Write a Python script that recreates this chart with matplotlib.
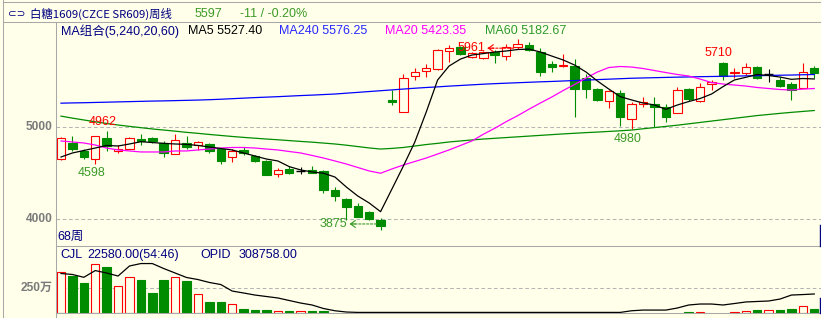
import matplotlib
matplotlib.use('Agg')
import matplotlib.pyplot as plt
from matplotlib.patches import Rectangle
from matplotlib.lines import Line2D
from matplotlib.transforms import offset_copy, blended_transform_factory

# ---------------- data (weekly candles) ----------------
opens = [4655, 4833, 4742, 4655, 4883, 4742, 4763, 4873, 4883, 4833,
         4709, 4829, 4807, 4818, 4763, 4676, 4753, 4687, 4633, 4491,
         4546, 4524, 4535, 4524, 4317, 4219, 4143, 4078, 3990, 5298,
         5167, 5559, 5614, 5635, 5832, 5875, 5766, 5755, 5821, 5777,
         5875, 5897, 5821, 5690, 5668, 5668, 5537, 5417, 5287, 5374,
         5090, 5254, 5254, 5221, 5156, 5417, 5287, 5472, 5705, 5592,
         5592, 5657, 5581, 5516, 5472, 5428, 5650]
highs = [4895, 4909, 4763, 4906, 4962, 4807, 4895, 4927, 4895, 4851,
         4927, 4906, 4851, 4829, 4774, 4763, 4785, 4698, 4644, 4557,
         4578, 4568, 4578, 4535, 4350, 4230, 4175, 4088, 4012, 5407,
         5581, 5646, 5690, 5853, 5897, 5886, 5821, 5832, 5843, 5908,
         5961, 5930, 5864, 5723, 5799, 5744, 5581, 5428, 5407, 5407,
         5276, 5330, 5330, 5254, 5439, 5428, 5483, 5516, 5710, 5646,
         5701, 5668, 5635, 5548, 5494, 5701, 5668]
lows = [4644, 4747, 4655, 4598, 4742, 4720, 4763, 4807, 4829, 4676,
        4709, 4763, 4753, 4720, 4600, 4622, 4698, 4622, 4480, 4458,
        4491, 4491, 4502, 4284, 4197, 3990, 4023, 3990, 3875, 5243,
        5167, 5516, 5548, 5624, 5711, 5788, 5755, 5744, 5701, 5733,
        5853, 5832, 5559, 5603, 5657, 5112, 5319, 5287, 5210, 5014,
        4980, 5221, 5003, 5058, 5156, 5287, 5276, 5407, 5516, 5537,
        5570, 5526, 5494, 5439, 5298, 5428, 5537]
closes = [4884, 4768, 4676, 4906, 4796, 4763, 4883, 4851, 4851, 4720,
          4862, 4785, 4840, 4742, 4633, 4742, 4720, 4633, 4480, 4535,
          4502, 4524, 4502, 4317, 4251, 4132, 4023, 4001, 3925, 5276,
          5537, 5603, 5646, 5843, 5864, 5799, 5810, 5821, 5788, 5875,
          5908, 5843, 5603, 5657, 5679, 5417, 5417, 5298, 5396, 5112,
          5254, 5276, 5221, 5112, 5407, 5308, 5439, 5494, 5559, 5603,
          5657, 5537, 5581, 5450, 5407, 5608, 5597]

ma5 = [4676, 4720, 4747, 4774, 4802, 4796, 4818, 4843, 4834, 4825,
       4818, 4814, 4802, 4785, 4769, 4753, 4720, 4687, 4654, 4633,
       4571, 4535, 4513, 4499, 4458, 4349, 4251, 4175, 4080, 4328,
       4578, 4839, 5166, 5516, 5668, 5744, 5788, 5804, 5821, 5832,
       5848, 5853, 5821, 5777, 5734, 5679, 5603, 5505, 5417, 5334,
       5298, 5265, 5243, 5196, 5243, 5281, 5314, 5363, 5443, 5516,
       5545, 5576, 5565, 5548, 5523, 5532, 5527]
ma20 = [4851, 4840, 4829, 4807, 4774, 4753, 4742, 4731, 4731, 4731,
        4742, 4742, 4753, 4763, 4774, 4780, 4780, 4774, 4763, 4753,
        4736, 4720, 4693, 4665, 4633, 4600, 4562, 4524, 4499, 4546,
        4589, 4627, 4665, 4709, 4753, 4802, 4851, 4924, 4989, 5061,
        5126, 5197, 5265, 5330, 5401, 5467, 5537, 5603, 5652, 5663,
        5657, 5641, 5619, 5597, 5576, 5559, 5526, 5488, 5472, 5461,
        5450, 5434, 5423, 5412, 5407, 5417, 5423]
ma60 = [5122, 5100, 5080, 5060, 5042, 5025, 5010, 4996, 4982, 4970,
        4958, 4945, 4934, 4922, 4911, 4900, 4890, 4881, 4872, 4864,
        4855, 4846, 4838, 4828, 4818, 4805, 4790, 4775, 4763, 4770,
        4780, 4796, 4812, 4825, 4840, 4851, 4862, 4872, 4880, 4888,
        4896, 4904, 4912, 4920, 4928, 4935, 4942, 4948, 4955, 4962,
        4970, 4984, 4997, 5010, 5023, 5038, 5053, 5068, 5083, 5098,
        5113, 5128, 5140, 5152, 5163, 5173, 5183]
ma240 = [5263, 5266, 5268, 5271, 5274, 5277, 5280, 5283, 5286, 5288,
         5291, 5294, 5297, 5301, 5306, 5312, 5318, 5324, 5329, 5334,
         5340, 5346, 5351, 5357, 5363, 5372, 5381, 5390, 5399, 5408,
         5417, 5426, 5434, 5441, 5449, 5456, 5463, 5470, 5476, 5481,
         5486, 5491, 5496, 5500, 5505, 5510, 5515, 5520, 5525, 5530,
         5535, 5538, 5541, 5544, 5547, 5549, 5552, 5554, 5556, 5558,
         5561, 5563, 5565, 5568, 5570, 5573, 5576]

# volume in 万
volume = [414, 372, 304, 502, 464, 277, 369, 338, 198, 331,
          369, 321, 195, 113, 113, 92, 41, 24, 31, 13,
          13, 20, 13, 13, 0, 0, 0, 0, 0, 0,
          0, 0, 0, 0, 0, 0, 0, 0, 0, 0,
          0, 0, 0, 0, 0, 0, 0, 0, 0, 0,
          0, 0, 0, 0, 0, 10, 10, 0, 0, 10,
          20, 31, 31, 31, 41, 69, 41]
vol_ma = [402, 392, 363, 432, 407, 376, 479, 504, 504, 453,
          407, 361, 340, 310, 289, 222, 202, 181, 166, 151,
          125, 99, 79, 43, 20, 7, 3, 3, 3, 3,
          3, 3, 3, 3, 3, 3, 3, 3, 3, 3,
          3, 3, 3, 3, 3, 3, 3, 3, 3, 3,
          20, 27, 27, 27, 48, 79, 89, 89, 79, 94,
          110, 115, 120, 140, 181, 186, 192]

price_ticks = [4000, 5000]
vol_tick = 250

# ---------------- style ----------------
W, H = 821, 318
BG = '#FFFFEA'
RED = '#FF0000'
GREEN = '#008C00'
NAVY = '#000080'
GRID = '#B4B4B4'
FRAME = '#A8A8A8'
LBL_GREEN = '#3C9A28'
FONT = ['Liberation Sans', 'Noto Sans CJK SC', 'DejaVu Sans']
plt.rcParams['font.family'] = FONT

fig = plt.figure(figsize=(W / 100, H / 100), dpi=100, facecolor=BG)


def fx(px):
    return px / W


def fy(py):
    return 1 - py / H


def fline(x0, y0, x1, y1, color=FRAME, lw=0.75, ls='-'):
    fig.add_artist(Line2D([fx(x0), fx(x1)], [fy(y0), fy(y1)], transform=fig.transFigure,
                          color=color, lw=lw, ls=ls))


# frame lines
fline(2.5, 0, 2.5, 318)
fline(2.5, 2.3, 821, 2.3)
fline(2.5, 22, 821, 22)
fline(55.5, 22, 55.5, 318)
fline(55.5, 246, 821, 246)
fline(55.5, 313, 821, 313)
fline(819.5, 225, 819.5, 246, color=NAVY, lw=1.0)
fline(819.5, 298, 819.5, 313, color=NAVY, lw=1.0)

n = len(closes)
idx = list(range(n))
cw = 0.74
XL = (-0.4816, 66.59)

# ---------------- price panel ----------------
ax = fig.add_axes([fx(55.5), fy(246), (821 - 55.5) / W, (246 - 22) / H])
ax.set_xlim(*XL)
ax.set_ylim(3705.6, 6148.3)
ax.axis('off')

for t in price_ticks:
    ax.axhline(t, color=GRID, lw=0.75, ls=(0, (3.5, 2.5)), zorder=1)

lw = 0.8
for i in idx:
    o, h, l, c = opens[i], highs[i], lows[i], closes[i]
    if c > o:
        ax.add_patch(Rectangle((i - cw / 2, o), cw, c - o, facecolor=BG, edgecolor=RED,
                               lw=lw, zorder=3))
        ax.vlines(i, c, h, color=RED, lw=lw, zorder=3)
        ax.vlines(i, l, o, color=RED, lw=lw, zorder=3)
    elif c < o:
        ax.vlines(i, l, h, color=GREEN, lw=lw, zorder=2)
        ax.add_patch(Rectangle((i - cw / 2, c), cw, o - c, facecolor=GREEN, edgecolor=GREEN,
                               lw=lw, zorder=3))
    else:
        ax.vlines(i, l, h, color='black', lw=lw, zorder=3)
        ax.hlines(o, i - cw / 2, i + cw / 2, color='black', lw=1.0, zorder=3)

ax.plot(idx, ma240, color='#0000FF', lw=0.9, zorder=4)
ax.plot(idx, ma60, color='#008C00', lw=0.9, zorder=4)
ax.plot(idx, ma20, color='#FF00FF', lw=0.9, zorder=4)
ax.plot(idx, ma5, color='black', lw=0.9, zorder=5)

ylab = blended_transform_factory(ax.transAxes, ax.transData)
for t in price_ticks:
    ax.text(-0.004, t, str(t), transform=ylab, ha='right', va='center', fontsize=8.6,
            color='#7A7A7A', fontweight='bold', clip_on=False)


def mark(i, price, text, dx, dy, color, ha='center'):
    tr = offset_copy(ax.transData, fig=fig, x=dx, y=dy, units='dots')
    ax.text(i, price, text, transform=tr, ha=ha, va='center', fontsize=9, color=color, zorder=6)


def dashed_arrow(i, price, tip_dx, tail_dx, dy, color):
    tr = offset_copy(ax.transData, fig=fig, x=tip_dx, y=dy, units='dots')
    ax.annotate('', xy=(i, price), xycoords=tr, xytext=(tail_dx - tip_dx, 0),
                textcoords='offset pixels',
                arrowprops=dict(arrowstyle='-', color=color, lw=0.8, ls=(0, (2, 1.5)),
                                shrinkA=0, shrinkB=0), zorder=6)
    ax.annotate('', xy=(i, price), xycoords=tr, xytext=(6, 0), textcoords='offset pixels',
                arrowprops=dict(arrowstyle='->,head_length=0.35,head_width=0.25', color=color,
                                lw=0.8, shrinkA=0, shrinkB=0), zorder=6)


hi_i = highs.index(max(highs))
lo_i = lows.index(min(lows))
mark(4, highs[4], str(highs[4]), -4, 9, RED)
mark(3, lows[3], str(lows[3]), -4, -9, LBL_GREEN)
mark(lo_i, lows[lo_i], str(lows[lo_i]), -33, 6.5, LBL_GREEN, ha='right')
dashed_arrow(lo_i, lows[lo_i], -31, -4, 6.5, LBL_GREEN)
mark(hi_i, highs[hi_i], str(highs[hi_i]), -32, -9, RED, ha='right')
dashed_arrow(hi_i, highs[hi_i], -30, -4, -9, RED)
mark(50, lows[50], str(lows[50]), -4.5, -9.5, LBL_GREEN)
mark(58, highs[58], str(highs[58]), -5, 9.4, RED)

# ---------------- volume panel ----------------
vax = fig.add_axes([fx(55.5), fy(312.7), (821 - 55.5) / W, (312.7 - 246) / H])
vax.set_xlim(*XL)
vax.set_ylim(0, 684)
vax.axis('off')
vax.axhline(vol_tick, color=GRID, lw=0.75, ls=(0, (3.5, 2.5)), zorder=1)
for i in idx:
    v = volume[i]
    if v <= 0:
        continue
    if closes[i] >= opens[i]:
        vax.add_patch(Rectangle((i - cw / 2, 0), cw, v, facecolor=BG, edgecolor=RED, lw=lw,
                                zorder=3))
    else:
        vax.add_patch(Rectangle((i - cw / 2, 0), cw, v, facecolor=GREEN, edgecolor=GREEN,
                                lw=lw, zorder=3))
vax.plot(idx, vol_ma, color='black', lw=0.9, zorder=4)
vlab = blended_transform_factory(vax.transAxes, vax.transData)
vax.text(-0.004, vol_tick, f'{vol_tick}万', transform=vlab, ha='right', va='center',
         fontsize=8.6, color='#7A7A7A', fontweight='bold', clip_on=False)

# ---------------- header texts ----------------
fig.text(fx(8), fy(14), '⊂⊃', fontsize=7.5, color=NAVY, va='center', family=['DejaVu Sans'])
fig.text(fx(30), fy(14), '白糖1609(CZCE SR609)周线', fontsize=8.2, color=NAVY, va='center',
         family=['Noto Sans CJK SC', 'DejaVu Sans'])
fig.text(fx(195), fy(14), '5597', fontsize=9, color=LBL_GREEN, va='center')
fig.text(fx(240), fy(14), '-11 / -0.20%', fontsize=9, color=LBL_GREEN, va='center')

fig.text(fx(61), fy(31), 'MA组合(5,240,20,60)', fontsize=9, color=NAVY, va='center')
fig.text(fx(188), fy(31), 'MA5 5527.40', fontsize=9, color='black', va='center')
fig.text(fx(279), fy(31), 'MA240 5576.25', fontsize=9, color='#2828FF', va='center')
fig.text(fx(385), fy(31), 'MA20 5423.35', fontsize=9, color='#FF00FF', va='center')
fig.text(fx(485), fy(31), 'MA60 5182.67', fontsize=9, color='#2E9A2E', va='center')

fig.text(fx(57), fy(237), '68周', fontsize=9, color=NAVY, va='center')

fig.text(fx(60), fy(255), 'CJL', fontsize=9, color=NAVY, va='center')
fig.text(fx(87), fy(255), '22580.00(54:46)', fontsize=9, color=NAVY, va='center')
fig.text(fx(200), fy(255), 'OPID', fontsize=9, color=NAVY, va='center')
fig.text(fx(239), fy(255), '308758.00', fontsize=9, color=NAVY, va='center')

fig.savefig('out.png', dpi=100, facecolor=BG)
